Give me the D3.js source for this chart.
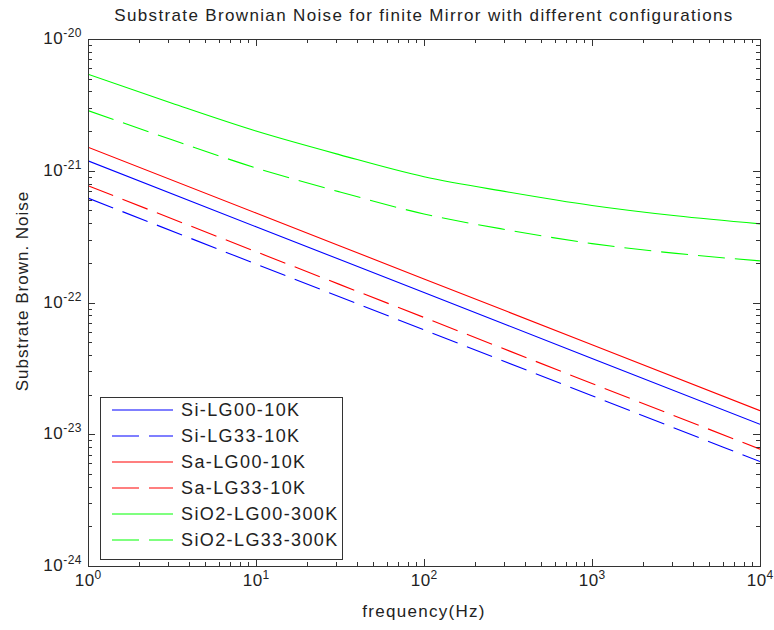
<!DOCTYPE html>
<html><head><meta charset="utf-8">
<script src="https://cdn.jsdelivr.net/npm/d3@7/dist/d3.min.js"></script>
<style>body{margin:0;background:#fff}svg{display:block}text{font-family:"Liberation Sans",Arial,Helvetica,sans-serif;fill:#222}</style>
</head><body><svg id="c" width="774" height="630"></svg>
<script>
const title = "Substrate Brownian Noise for finite Mirror with different configurations";
const xLabel = "frequency(Hz)";
const yLabel = "Substrate Brown. Noise";
const xTickExps = [0, 1, 2, 3, 4];
const yTickExps = [-24, -23, -22, -21, -20];

const freqDecades = [1, 10, 100, 1000, 10000];
const siLG00 = [1.19e-21, 3.76e-22, 1.19e-22, 3.76e-23, 1.19e-23];
const siLG33 = [6.2e-22, 1.96e-22, 6.2e-23, 1.96e-23, 6.2e-24];
const saLG00 = [1.51e-21, 4.78e-22, 1.51e-22, 4.78e-23, 1.51e-23];
const saLG33 = [7.7e-22, 2.43e-22, 7.7e-23, 2.43e-23, 7.7e-24];

const freqFine = [1, 3.162, 10, 31.62, 100, 316.2, 1000, 3162, 10000];
const sio2LG00 = [5.4e-21, 3.25e-21, 2.0e-21, 1.32e-21, 9.0e-22, 6.9e-22, 5.45e-22, 4.55e-22, 3.95e-22];
const sio2LG33 = [2.86e-21, 1.72e-21, 1.05e-21, 6.9e-22, 4.7e-22, 3.55e-22, 2.8e-22, 2.36e-22, 2.07e-22];

const seriesNames = ["Si-LG00-10K", "Si-LG33-10K", "Sa-LG00-10K", "Sa-LG33-10K", "SiO2-LG00-300K", "SiO2-LG33-300K"];
const seriesColors = ["#0000ff", "#0000ff", "#ff0000", "#ff0000", "#00ff00", "#00ff00"];
const seriesDashed = [false, true, false, true, false, true];
const seriesX = [freqDecades, freqDecades, freqDecades, freqDecades, freqFine, freqFine];
const seriesY = [siLG00, siLG33, saLG00, saLG33, sio2LG00, sio2LG33];

const L = 88, R = 760, T = 39, B = 566;
const svg = d3.select("#c");
const x = d3.scaleLog().domain([1, 1e4]).range([L, R]);
const y = d3.scaleLog().domain([1e-24, 1e-20]).range([B, T]);
const axisColor = "#333";

svg.append("clipPath").attr("id", "clip").append("rect").attr("x", L).attr("y", T).attr("width", R - L).attr("height", B - T);

const line = d3.line().x(d => x(d[0])).y(d => y(d[1])).curve(d3.curveMonotoneX);
const g = svg.append("g").attr("clip-path", "url(#clip)");
seriesNames.forEach((n, i) => {
  const pts = seriesX[i].map((f, j) => [f, seriesY[i][j]]);
  g.append("path").attr("d", line(pts)).attr("fill", "none")
    .attr("stroke", seriesColors[i]).attr("stroke-width", 1.1)
    .attr("stroke-dasharray", seriesDashed[i] ? "27,10" : null);
});

const xMajor = xTickExps.map(e => Math.pow(10, e));
const yMajor = yTickExps.map(e => Math.pow(10, e));
const xMinor = [], yMinor = [];
for (let e = 0; e < 4; e++) for (let k = 2; k <= 9; k++) xMinor.push(k * Math.pow(10, e));
for (let e = -24; e < -20; e++) for (let k = 2; k <= 9; k++) yMinor.push(k * Math.pow(10, e));

const axG = svg.append("g").attr("stroke", axisColor).attr("stroke-width", 1).attr("shape-rendering", "crispEdges");
const drawX = (vals, len) => vals.forEach(v => {
  const px = Math.round(x(v)) + 0.5;
  axG.append("line").attr("x1", px).attr("x2", px).attr("y1", B).attr("y2", B - len);
  axG.append("line").attr("x1", px).attr("x2", px).attr("y1", T).attr("y2", T + len);
});
const drawY = (vals, len) => vals.forEach(v => {
  const py = Math.round(y(v)) + 0.5;
  axG.append("line").attr("y1", py).attr("y2", py).attr("x1", L).attr("x2", L + len);
  axG.append("line").attr("y1", py).attr("y2", py).attr("x1", R).attr("x2", R - len);
});
drawX(xMajor, 7); drawX(xMinor, 4); drawY(yMajor, 7); drawY(yMinor, 4);
axG.append("rect").attr("x", L + 0.5).attr("y", T + 0.5).attr("width", R - L).attr("height", B - T).attr("fill", "none");

xTickExps.forEach(e => {
  const t = svg.append("text").attr("x", x(Math.pow(10, e))).attr("y", 586).attr("text-anchor", "middle")
    .attr("font-size", 17);
  t.append("tspan").attr("letter-spacing", 0.5).text("10");
  t.append("tspan").attr("font-size", 12).attr("dy", -7).text(String(e));
});
yTickExps.forEach(e => {
  const t = svg.append("text").attr("x", 82).attr("y", y(Math.pow(10, e)) + 5).attr("text-anchor", "end")
    .attr("font-size", 17);
  t.append("tspan").attr("letter-spacing", 0.5).text("10");
  t.append("tspan").attr("font-size", 12).attr("dy", -7).attr("letter-spacing", 0.5).text(String(e));
});

svg.append("text").attr("x", (L + R) / 2).attr("y", 21).attr("text-anchor", "middle")
  .attr("font-size", 17).attr("letter-spacing", 1.35).text(title);
svg.append("text").attr("x", (L + R) / 2).attr("y", 617).attr("text-anchor", "middle")
  .attr("font-size", 17).attr("letter-spacing", 1.3).text(xLabel);
svg.append("text").attr("transform", "translate(28,291) rotate(-90)").attr("text-anchor", "middle")
  .attr("font-size", 17).attr("letter-spacing", 1.0).text(yLabel);

const lg = svg.append("g");
lg.append("rect").attr("x", 100.5).attr("y", 397.5).attr("width", 242).attr("height", 162)
  .attr("fill", "#fff").attr("stroke", axisColor).attr("stroke-width", 1).attr("shape-rendering", "crispEdges");
seriesNames.forEach((n, i) => {
  const yy = 410 + i * 26;
  lg.append("line").attr("x1", 112).attr("x2", 173).attr("y1", yy).attr("y2", yy)
    .attr("stroke", seriesColors[i]).attr("stroke-width", 1.1)
    .attr("stroke-dasharray", seriesDashed[i] ? "27,10" : null);
  lg.append("text").attr("x", 181).attr("y", yy + 6).attr("font-size", 18).attr("letter-spacing", 1.4).text(n);
});
</script></body></html>
